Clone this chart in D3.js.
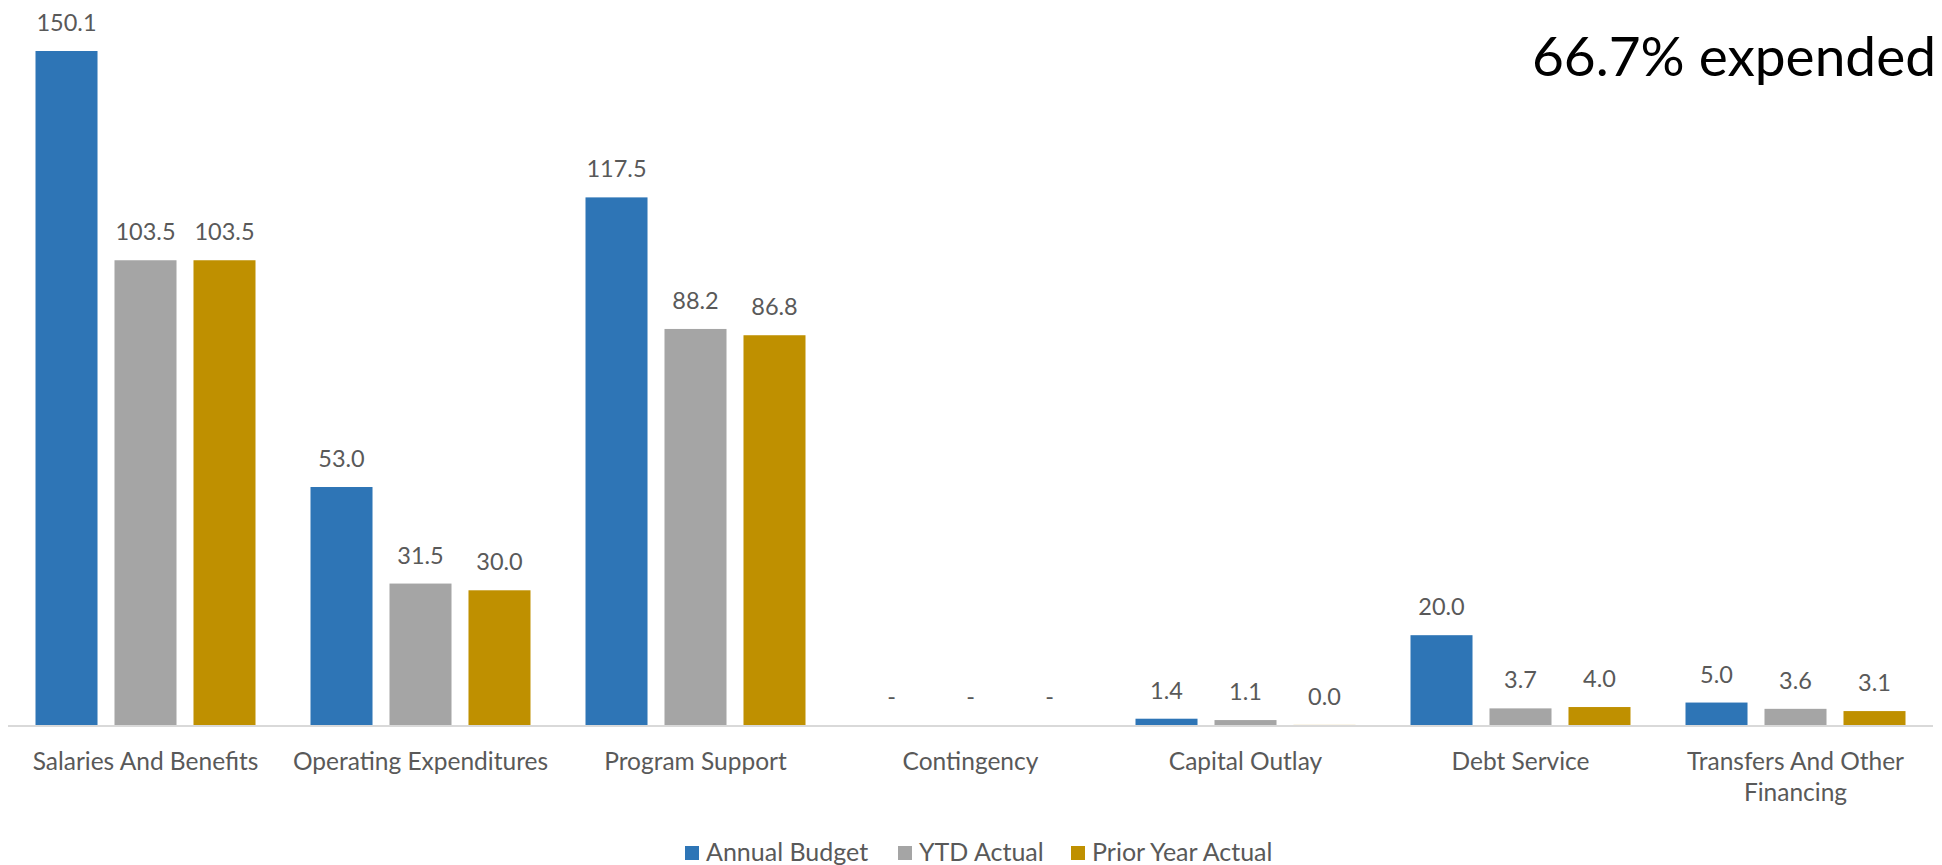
<!DOCTYPE html>
<html>
<head>
<meta charset="utf-8">
<script src="https://cdn.jsdelivr.net/npm/d3@7"></script>
<style>
	html, body { margin: 0; padding: 0; background: #fff; }
	svg { display: block; font-family: Lato, "Open Sans", sans-serif; }
</style>
</head>
<body>
<div id="chart"></div>
<script>
// categories (second line for wrapped labels after '|')
var categories = ['Salaries And Benefits', 'Operating Expenditures', 'Program Support', 'Contingency',
	'Capital Outlay', 'Debt Service', 'Transfers And Other|Financing'];
var series = ['Annual Budget', 'YTD Actual', 'Prior Year Actual'];
var annualBudget = [150.1, 53.0, 117.5, 0, 1.4, 20.0, 5.0];
var ytdActual = [103.5, 31.5, 88.2, 0, 1.1, 3.7, 3.6];
var priorYearActual = [103.5, 30.0, 86.8, 0, 0.02, 4.0, 3.1];
var note = '66.7% expended';

var colors = ['#2e75b6', '#a5a5a5', '#bf9000'];
var W = 1942, H = 865;

var data = categories.map(function (c, i) {
	return { cat: c, values: [annualBudget[i], ytdActual[i], priorYearActual[i]] };
});

var svg = d3.select('#chart').append('svg').attr('width', W).attr('height', H);

// scales
var x0 = d3.scaleBand().domain(categories).range([8, 1933]);
var x1 = d3.scaleBand().domain(series).range([27.5, 247.5]).paddingInner(0.215);
var y = d3.scaleLinear().domain([0, 150.1]).range([725, 51]);
var z = d3.scaleOrdinal().domain(series).range(colors);

// bars
var groups = svg.append('g').selectAll('g').data(data).enter().append('g')
	.attr('transform', function (d) { return 'translate(' + x0(d.cat) + ',0)'; });

groups.selectAll('rect').data(function (d) {
	return d.values.map(function (v, i) { return { key: series[i], v: v }; });
}).enter().append('rect')
	.attr('x', function (d) { return x1(d.key); })
	.attr('y', function (d) { return y(d.v); })
	.attr('width', x1.bandwidth())
	.attr('height', function (d) { return y(0) - y(d.v); })
	.attr('fill', function (d) { return z(d.key); });

// value labels, zero shows as dash
groups.selectAll('text').data(function (d) {
	return d.values.map(function (v, i) { return { key: series[i], v: v }; });
}).enter().append('text')
	.attr('x', function (d) { return x1(d.key) + x1.bandwidth() / 2; })
	.attr('y', function (d) { return y(d.v) - 20; })
	.attr('text-anchor', 'middle')
	.attr('font-size', 23.5)
	.attr('fill', '#595959')
	.text(function (d) { return d.v === 0 ? '-' : d.v.toFixed(1); });

// x axis line
svg.append('line')
	.attr('x1', x0.range()[0]).attr('x2', x0.range()[1])
	.attr('y1', y(0) + 1).attr('y2', y(0) + 1)
	.attr('stroke', '#d9d9d9').attr('stroke-width', 2);

// category labels
var catLabels = svg.append('g').selectAll('text').data(categories).enter().append('text')
	.attr('x', function (d) { return x0(d) + x0.bandwidth() / 2; })
	.attr('y', 770)
	.attr('text-anchor', 'middle')
	.attr('font-size', 24.5)
	.attr('fill', '#595959');
catLabels.each(function (d) {
	var lines = d.split('|');
	var t = d3.select(this);
	lines.forEach(function (l, i) {
		t.append('tspan').attr('x', t.attr('x')).attr('dy', i ? 31 : 0).text(l);
	});
});

// legend
var legendX = [685, 898, 1071];
var legend = svg.append('g').selectAll('g').data(series).enter().append('g')
	.attr('transform', function (d, i) { return 'translate(' + legendX[i] + ',846)'; });
legend.append('rect').attr('width', 14).attr('height', 14).attr('fill', function (d) { return z(d); });
legend.append('text').attr('x', 21).attr('y', 15).attr('font-size', 25).attr('fill', '#595959')
	.text(function (d) { return d; });

// annotation
svg.append('text').attr('x', 1936).attr('y', 76).attr('text-anchor', 'end')
	.attr('font-size', 55).attr('fill', '#000').text(note);
</script>
</body>
</html>
